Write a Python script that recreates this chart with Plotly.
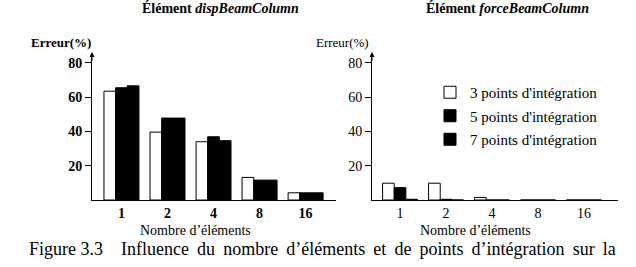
import plotly.graph_objects as go

W, H = 636, 267

categories = ["1", "2", "4", "8", "16"]
series_names = ["3 points d'intégration", "5 points d'intégration", "7 points d'intégration"]

disp_3 = [63.5, 39.6, 34.0, 13.2, 4.2]
disp_5 = [65.5, 47.8, 36.9, 11.6, 4.2]
disp_7 = [66.6, 47.8, 34.6, 11.6, 4.2]

force_3 = [9.8, 9.8, 1.5, 0.0, 0.0]
force_5 = [7.2, 0.4, 0.0, 0.0, 0.0]
force_7 = [0.4, 0.0, 0.0, 0.0, 0.0]

yticks = [20, 40, 60, 80]

fills = ["white", "black", "black"]
SERIF = "Liberation Serif, Times New Roman, serif"

def px_x(p):
    return p / W

def px_y(p):
    return (H - p) / H

fig = go.Figure()

for i, (vals, name) in enumerate(zip([disp_3, disp_5, disp_7], series_names)):
    fig.add_trace(go.Bar(
        x=categories, y=vals, name=name, xaxis="x", yaxis="y",
        marker=dict(color=fills[i], line=dict(color="black", width=1)),
        showlegend=False,
    ))
for i, (vals, name) in enumerate(zip([force_3, force_5, force_7], series_names)):
    fig.add_trace(go.Bar(
        x=categories, y=vals, name=name, xaxis="x2", yaxis="y2",
        marker=dict(color=fills[i], line=dict(color="black", width=1)),
        showlegend=True, legendgroup=f"g{i}",
    ))

y_dom = [px_y(200), px_y(55)]
yrange = [0, 84.6]

common_x = dict(type="category", showline=True, linecolor="black", linewidth=1,
                ticks="", showgrid=False, zeroline=False)
common_y = dict(range=yrange, showline=True, linecolor="black", linewidth=1,
                ticks="outside", ticklen=6, tickcolor="black", tickvals=yticks,
                showgrid=False, zeroline=False)

fig.update_layout(
    width=W, height=H, margin=dict(l=0, r=0, t=0, b=0),
    paper_bgcolor="white", plot_bgcolor="white",
    font=dict(family=SERIF, color="black"),
    barmode="group", bargap=0.24, bargroupgap=0,
    xaxis=dict(common_x, domain=[px_x(92), px_x(336)], range=[-0.64, 4.66], anchor="y",
               tickfont=dict(family=SERIF, size=14, color="black", weight="bold")),
    yaxis=dict(common_y, domain=y_dom, anchor="x",
               tickfont=dict(family=SERIF, size=14, color="black", weight="bold")),
    xaxis2=dict(common_x, domain=[px_x(372), px_x(618)], range=[-0.61, 4.74], anchor="y2",
                tickfont=dict(family=SERIF, size=14, color="black")),
    yaxis2=dict(common_y, domain=y_dom, anchor="x2",
                tickfont=dict(family=SERIF, size=14, color="black")),
    legend=dict(x=px_x(430), y=px_y(76), xanchor="left", yanchor="top",
                font=dict(family=SERIF, size=15, color="black"),
                bgcolor="rgba(0,0,0,0)", tracegroupgap=1, itemwidth=30),
)

def note(x, y, text, size, xanchor="center"):
    return dict(x=px_x(x), y=px_y(y), xref="paper", yref="paper", showarrow=False,
                xanchor=xanchor, yanchor="middle", text=text,
                font=dict(family=SERIF, size=size, color="black"))

ann = [
    note(220, 8, "<b>Élément <i>dispBeamColumn</i></b>", 14),
    note(507, 8, "<b>Élément <i>forceBeamColumn</i></b>", 14),
    note(61, 43, "<b>Erreur(%)</b>", 13),
    note(342, 43, "Erreur(%)", 13),
    note(195, 230, "Nombre d’éléments", 14),
    note(476, 230, "Nombre d’éléments", 14),
]
for xp in (92, 372):
    ann.append(dict(x=px_x(xp), y=px_y(52), ax=0, ay=10, xref="paper", yref="paper",
                    axref="pixel", ayref="pixel", showarrow=True, arrowhead=2, arrowsize=1,
                    arrowwidth=1, arrowcolor="black", text=""))
caption1 = ("Figure 3.3" + "\u2003" + " \u2009".join(
    ["Influence", "du", "nombre", "d’éléments", "et", "de", "points", "d’intégration", "sur", "la"]))
ann.append(note(27, 249, caption1, 18, xanchor="left"))
ann.append(note(27, 276, "réponse (Taucer, 1991).", 18, xanchor="left"))
fig.update_layout(annotations=ann)

fig.write_html("out.html")
